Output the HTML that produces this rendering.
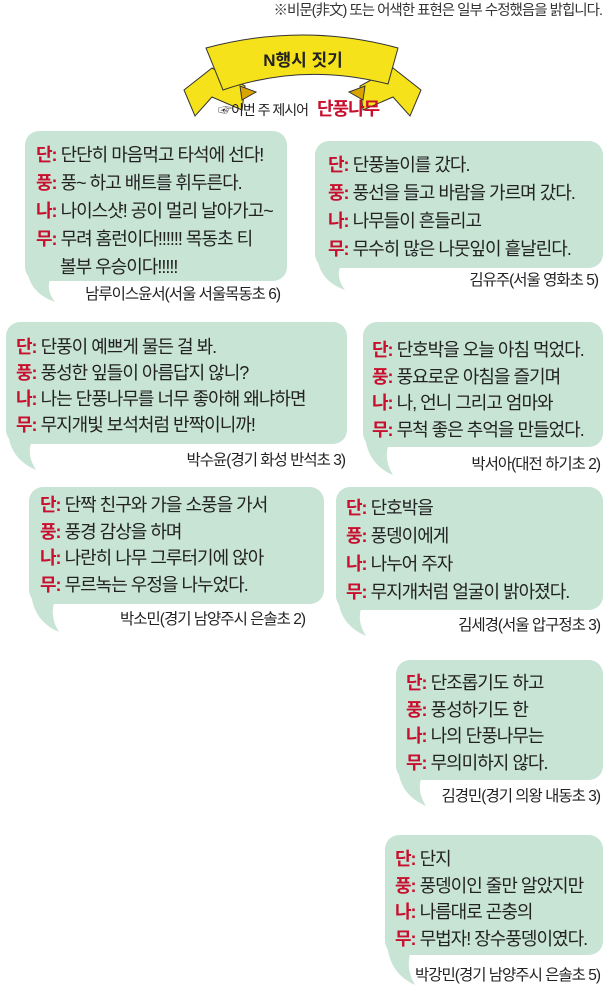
<!DOCTYPE html>
<html><head><meta charset="utf-8"><style>
body{margin:0;width:616px;height:990px;background:#fff;position:relative;overflow:hidden;font-family:"Liberation Sans","Noto Sans CJK KR",sans-serif;}
.l{position:absolute;font-size:18px;letter-spacing:-1px;color:#222;white-space:nowrap;line-height:20px;}
.l b{color:#c8102e;font-weight:bold;}
.c{position:absolute;font-size:15.5px;letter-spacing:-1px;color:#222;white-space:nowrap;text-align:right;line-height:16px;}
</style></head><body>
<svg width="616" height="990" style="position:absolute;left:0;top:0">
<g fill="#c8e4d5">
<rect x="25" y="131" width="262" height="150" rx="14"/><path d="M27,265 Q27,292 55,302 Q46,290 50,280 Z"/>
<rect x="315" y="141" width="288" height="127" rx="14"/><path d="M317,252 Q317,280 345,290 Q336,278 340,267 Z"/>
<rect x="6" y="322" width="341" height="122" rx="14"/><path d="M8,428 Q8,458 36,470 Q27,456 31,443 Z"/>
<rect x="363" y="322" width="240" height="125" rx="14"/><path d="M365,431 Q365,463 393,475 Q384,461 388,446 Z"/>
<rect x="29" y="487" width="295" height="117" rx="14"/><path d="M31,588 Q31,620 59,632 Q50,618 54,603 Z"/>
<rect x="336" y="487" width="267" height="123" rx="14"/><path d="M338,594 Q338,624 366,636 Q357,622 361,609 Z"/>
<rect x="396" y="660" width="207" height="120" rx="14"/><path d="M398,764 Q398,794 426,806 Q417,792 421,779 Z"/>
<rect x="385" y="835" width="218" height="120" rx="14"/><path d="M387,939 Q387,972 415,985 Q406,970 410,954 Z"/>
</g>
<g stroke="#333" stroke-width="1" fill="#f5e21a">
<path d="M184,90 L212,68 L245,86 L242,110 L212,97 L195,116 Z"/>
<path d="M421,90 L393,68 L360,86 L363,110 L393,97 L410,116 Z"/>
<path d="M240,86 L242,100 L256,92 Z" fill="#d9a400"/>
<path d="M365,86 L363,100 L349,92 Z" fill="#d9a400"/>
<path d="M206,48 Q303,22 398,48 L388,84 Q303,62 223,90 Z"/>
</g>
<text x="303" y="66" text-anchor="middle" font-family="Liberation Sans,Noto Sans CJK KR,sans-serif" font-weight="bold" font-size="17" fill="#222">N행시 짓기</text>
</svg>
<div class="c" style="right:14px;top:3px;font-size:14.5px;color:#333">※비문(非文) 또는 어색한 표현은 일부 수정했음을 밝힙니다.</div>
<div class="l" style="left:218px;top:99px;font-size:14px;">☞이번 주 제시어 <b style="font-size:18px;margin-left:6px">단풍나무</b></div>

<div class="l" style="left:36px;top:145px">
<b>단:</b> 단단히 마음먹고 타석에 선다!<div style="height:8px"></div>
<b>풍:</b> 풍~ 하고 배트를 휘두른다.<div style="height:8px"></div>
<b>나:</b> 나이스샷! 공이 멀리 날아가고~<div style="height:8px"></div>
<b>무:</b> 무려 홈런이다!!!!!! 목동초 티<div style="height:8px"></div>
&nbsp;&nbsp;&nbsp;&nbsp;&nbsp;&nbsp;볼부 우승이다!!!!!</div>
<div class="c" style="right:336px;top:287px">남루이스윤서(서울 서울목동초 6)</div>

<div class="l" style="left:328px;top:151px;line-height:28px"><b>단:</b> 단풍놀이를 갔다.<br><b>풍:</b> 풍선을 들고 바람을 가르며 갔다.<br><b>나:</b> 나무들이 흔들리고<br><b>무:</b> 무수히 많은 나뭇잎이 흩날린다.</div>
<div class="c" style="right:18px;top:273px">김유주(서울 영화초 5)</div>

<div class="l" style="left:16px;top:334px;line-height:26px"><b>단:</b> 단풍이 예쁘게 물든 걸 봐.<br><b>풍:</b> 풍성한 잎들이 아름답지 않니?<br><b>나:</b> 나는 단풍나무를 너무 좋아해 왜냐하면<br><b>무:</b> 무지개빛 보석처럼 반짝이니까!</div>
<div class="c" style="right:271px;top:453px">박수윤(경기 화성 반석초 3)</div>

<div class="l" style="left:372px;top:337px;line-height:26.5px"><b>단:</b> 단호박을 오늘 아침 먹었다.<br><b>풍:</b> 풍요로운 아침을 즐기며<br><b>나:</b> 나, 언니 그리고 엄마와<br><b>무:</b> 무척 좋은 추억을 만들었다.</div>
<div class="c" style="right:16px;top:457px">박서아(대전 하기초 2)</div>

<div class="l" style="left:40px;top:492px;line-height:26.5px"><b>단:</b> 단짝 친구와 가을 소풍을 가서<br><b>풍:</b> 풍경 감상을 하며<br><b>나:</b> 나란히 나무 그루터기에 앉아<br><b>무:</b> 무르녹는 우정을 나누었다.</div>
<div class="c" style="right:311px;top:612px">박소민(경기 남양주시 은솔초 2)</div>

<div class="l" style="left:346px;top:494px;line-height:28px"><b>단:</b> 단호박을<br><b>풍:</b> 풍뎅이에게<br><b>나:</b> 나누어 주자<br><b>무:</b> 무지개처럼 얼굴이 밝아졌다.</div>
<div class="c" style="right:16px;top:618px">김세경(서울 압구정초 3)</div>

<div class="l" style="left:406px;top:670px;line-height:26.5px"><b>단:</b> 단조롭기도 하고<br><b>풍:</b> 풍성하기도 한<br><b>나:</b> 나의 단풍나무는<br><b>무:</b> 무의미하지 않다.</div>
<div class="c" style="right:16px;top:789px">김경민(경기 의왕 내동초 3)</div>

<div class="l" style="left:395px;top:846px;line-height:26.5px"><b>단:</b> 단지<br><b>풍:</b> 풍뎅이인 줄만 알았지만<br><b>나:</b> 나름대로 곤충의<br><b>무:</b> 무법자! 장수풍뎅이였다.</div>
<div class="c" style="right:16px;top:968px">박강민(경기 남양주시 은솔초 5)</div>
</body></html>
